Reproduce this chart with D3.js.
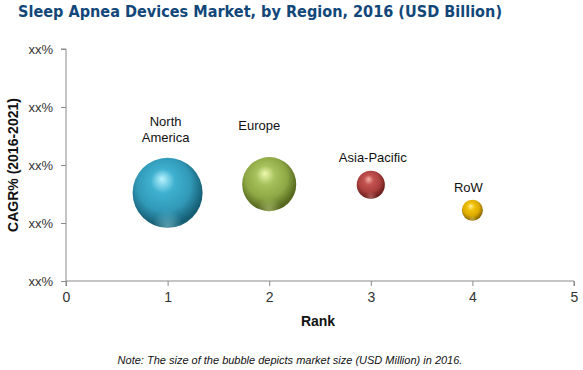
<!DOCTYPE html>
<html>
<head>
<meta charset="utf-8">
<script src="https://cdn.jsdelivr.net/npm/d3@7"></script>
<style>
  html, body { margin: 0; padding: 0; background: #fff; }
  svg { display: block; }
</style>
</head>
<body>
<svg id="chart" width="583" height="370"></svg>
<script>
// ---- data ----
const regions = ["North America", "Europe", "Asia-Pacific", "RoW"];
const rank = [1, 2, 3, 4];
const cagr = [1.52, 1.67, 1.66, 1.22];          // position on the (masked) CAGR axis
const marketSize = [2600, 1550, 420, 235];      // USD Million
const yTickValues = [0, 1, 2, 3, 4];
const yTickLabels = ["xx%", "xx%", "xx%", "xx%", "xx%"];
const xTickValues = [0, 1, 2, 3, 4, 5];

// ---- styles / layout ----
const palette = [
  { hi: "#b8f4ff", mid: "#3fb0d0", base: "#3199b8", dark: "#155e74" },
  { hi: "#eef8b0", mid: "#a7c25c", base: "#8ea845", dark: "#55681e" },
  { hi: "#f6b0aa", mid: "#c2524f", base: "#ab403e", dark: "#6c1f1d" },
  { hi: "#fff6a0", mid: "#f2c20c", base: "#ddaa00", dark: "#8f6a00" }
];
const labelLayout = [
  { dx: -2, dy: -67, lines: ["North", "America"] },
  { dx: -10, dy: -54, lines: ["Europe"] },
  { dx: 2, dy: -23, lines: ["Asia-Pacific"] },
  { dx: -4, dy: -18, lines: ["RoW"] }
];

const svg = d3.select("#chart");
const x = d3.scaleLinear().domain([0, 5]).range([66, 574]);
const y = d3.scaleLinear().domain([0, 4]).range([281, 49]);
const r = d3.scaleSqrt().domain([0, d3.max(marketSize)]).range([0, 35]);
const axisColor = "#8a8a8a";

// gradients
const defs = svg.append("defs");
palette.forEach((p, i) => {
  const g = defs.append("radialGradient").attr("id", "sph" + i)
    .attr("cx", "0.46").attr("cy", "0.42").attr("r", "0.62")
    .attr("fx", "0.42").attr("fy", "0.3");
  g.append("stop").attr("offset", "0").attr("stop-color", p.hi);
  g.append("stop").attr("offset", "0.28").attr("stop-color", p.mid);
  g.append("stop").attr("offset", "0.62").attr("stop-color", p.base);
  g.append("stop").attr("offset", "0.9").attr("stop-color", p.dark);
  g.append("stop").attr("offset", "1").attr("stop-color", p.dark);
  const rim = defs.append("radialGradient").attr("id", "rim" + i)
    .attr("cx", "0.5").attr("cy", "0.97").attr("r", "0.45");
  rim.append("stop").attr("offset", "0").attr("stop-color", p.hi).attr("stop-opacity", 0.4);
  rim.append("stop").attr("offset", "0.5").attr("stop-color", p.hi).attr("stop-opacity", 0.0);
});

// title
svg.append("text")
  .attr("x", 18).attr("y", 17)
  .attr("textLength", 484).attr("lengthAdjust", "spacingAndGlyphs")
  .style("font-family", "DejaVu Sans, Verdana, sans-serif")
  .style("font-weight", "bold").style("font-size", "15px")
  .style("fill", "#12477a")
  .text("Sleep Apnea Devices Market, by Region, 2016 (USD Billion)");

// y axis
const yAxis = d3.axisLeft(y).tickValues(yTickValues)
  .tickFormat((d, i) => yTickLabels[i]).tickSize(5).tickPadding(8);
const gy = svg.append("g").attr("transform", `translate(${x(0)},0)`).call(yAxis);
gy.select(".domain").attr("stroke", axisColor).attr("d", `M-5,${y(4)}H0V${y(0)}`);
gy.selectAll(".tick line").attr("stroke", axisColor);
gy.selectAll(".tick text")
  .style("font-family", "Liberation Sans, Arial, sans-serif")
  .style("font-size", "13px").style("fill", "#333");

// x axis
const xAxis = d3.axisBottom(x).tickValues(xTickValues).tickFormat(d3.format("d"))
  .tickSize(5).tickPadding(6);
const gx = svg.append("g").attr("transform", `translate(0,${y(0)})`).call(xAxis);
gx.select(".domain").attr("stroke", axisColor).attr("d", `M${x(0)},5V0H${x(5)}V5`);
gx.selectAll(".tick line").attr("stroke", axisColor);
gx.selectAll(".tick text")
  .style("font-family", "Liberation Sans, Arial, sans-serif")
  .style("font-size", "14px").style("fill", "#333");

// axis titles
svg.append("text")
  .attr("transform", `translate(18,${(y(0) + y(4)) / 2}) rotate(-90)`)
  .attr("text-anchor", "middle")
  .style("font-family", "Liberation Sans, Arial, sans-serif")
  .style("font-weight", "bold").style("font-size", "14px").style("fill", "#111")
  .text("CAGR% (2016-2021)");
svg.append("text")
  .attr("x", 318).attr("y", 326).attr("text-anchor", "middle")
  .style("font-family", "Liberation Sans, Arial, sans-serif")
  .style("font-weight", "bold").style("font-size", "14px").style("fill", "#111")
  .text("Rank");

// bubbles
const data = regions.map((name, i) => ({ name, i, rank: rank[i], cagr: cagr[i], size: marketSize[i] }));
const bub = svg.append("g").selectAll("g").data(data).join("g");
bub.append("circle")
  .attr("cx", d => x(d.rank)).attr("cy", d => y(d.cagr)).attr("r", d => r(d.size))
  .attr("fill", d => `url(#sph${d.i})`);
bub.append("circle")
  .attr("cx", d => x(d.rank)).attr("cy", d => y(d.cagr)).attr("r", d => r(d.size))
  .attr("fill", d => `url(#rim${d.i})`);

// bubble labels
const lab = svg.append("g").selectAll("text").data(data).join("text")
  .attr("text-anchor", "middle")
  .attr("x", d => x(d.rank) + labelLayout[d.i].dx)
  .attr("y", d => y(d.cagr) + labelLayout[d.i].dy)
  .style("font-family", "Liberation Sans, Arial, sans-serif")
  .style("font-size", "13px").style("fill", "#111");
lab.each(function (d) {
  const t = d3.select(this);
  labelLayout[d.i].lines.forEach((ln, k) => {
    t.append("tspan").attr("x", x(d.rank) + labelLayout[d.i].dx)
      .attr("dy", k === 0 ? 0 : 16).text(ln);
  });
});

// note
svg.append("text")
  .attr("x", 290).attr("y", 364).attr("text-anchor", "middle")
  .style("font-family", "Liberation Sans, Arial, sans-serif")
  .style("font-style", "italic").style("font-size", "11px").style("fill", "#111")
  .text("Note: The size of the bubble depicts market size (USD Million) in 2016.");
</script>
</body>
</html>
